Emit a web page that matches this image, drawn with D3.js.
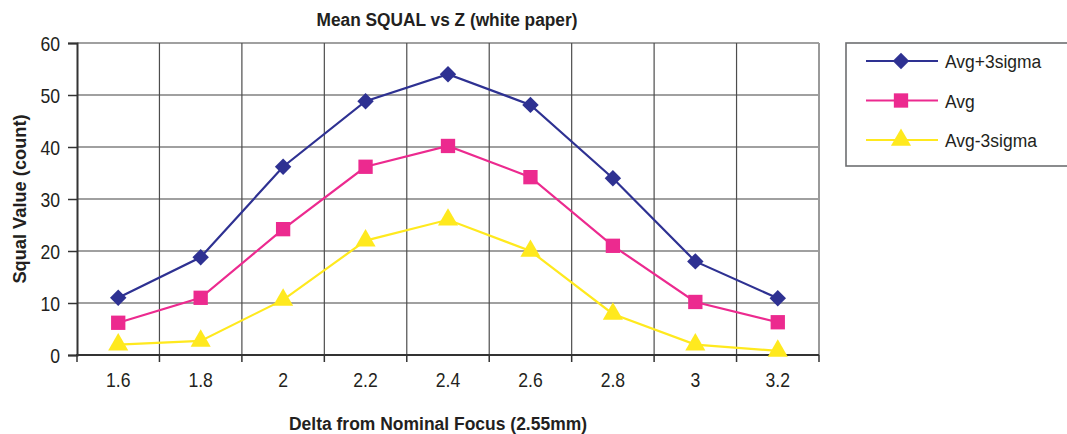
<!DOCTYPE html>
<html>
<head>
<meta charset="utf-8">
<script src="https://cdn.jsdelivr.net/npm/d3@7"></script>
<style>
  body { margin: 0; background: #fff; }
  text { font-family: "Liberation Sans Narrow", "Arial Narrow", "Liberation Sans", Arial, sans-serif; fill: #231f20; }
</style>
</head>
<body>
<svg></svg>
<script>
let width = 1067, height = 434;

let categories = ["1.6", "1.8", "2", "2.2", "2.4", "2.6", "2.8", "3", "3.2"];
let avgPlus = [11, 18.8, 36.2, 48.8, 54, 48.1, 34, 18, 10.9];
let avg = [6.2, 11, 24.2, 36.2, 40.2, 34.2, 21, 10.2, 6.3];
let avgMinus = [2, 2.7, 10.6, 22, 26, 20, 7.9, 2, 0.8];
let seriesNames = ["Avg+3sigma", "Avg", "Avg-3sigma"];
let yTicks = [0, 10, 20, 30, 40, 50, 60];

// diamond = square turned 45 degrees
let series = [
    { name: seriesNames[0], values: avgPlus, color: "#2e3192", symbol: d3.symbolSquare, size: 135, rot: 45 },
    { name: seriesNames[1], values: avg, color: "#ec2a8f", symbol: d3.symbolSquare, size: 205, rot: 0 },
    { name: seriesNames[2], values: avgMinus, color: "#ffe91e", symbol: d3.symbolTriangle, size: 175, rot: 0 }
];

let margin = { left: 77, right: 819, top: 43, bottom: 355 };

let svg = d3.select("svg")
    .attr("width", width)
    .attr("height", height)
    .attr("viewBox", "0 0 " + width + " " + height);

// squeeze text sideways, the fallback font is wider than the narrow one
function narrow(sel, k) {
    sel.each(function () {
        let t = d3.select(this);
        let tx = +t.attr("x") || 0, ty = +t.attr("y") || 0;
        let tr = t.attr("transform") || "";
        t.attr("x", null).attr("y", null)
            .attr("transform", tr + " translate(" + tx + "," + ty + ") scale(" + k + ",1)");
    });
}

let x = d3.scaleBand()
    .domain(categories)
    .range([margin.left, margin.right]);

let y = d3.scaleLinear()
    .domain([0, 60])
    .range([margin.bottom, margin.top]);

// horizontal grid
svg.append("g")
    .selectAll("line")
    .data(yTicks.slice(1))
    .enter()
    .append("line")
    .attr("x1", margin.left).attr("x2", margin.right)
    .attr("y1", d => y(d)).attr("y2", d => y(d))
    .attr("stroke", "#808080")
    .attr("stroke-width", 1.6);

// vertical grid at category boundaries
svg.append("g")
    .selectAll("line")
    .data(categories.slice(1))
    .enter()
    .append("line")
    .attr("x1", d => x(d)).attr("x2", d => x(d))
    .attr("y1", margin.top).attr("y2", margin.bottom)
    .attr("stroke", "#4d4d4d")
    .attr("stroke-width", 1.2);

// plot border right
svg.append("line")
    .attr("x1", margin.right).attr("x2", margin.right)
    .attr("y1", margin.top).attr("y2", margin.bottom)
    .attr("stroke", "#9a9a9a").attr("stroke-width", 2);

// y axis
let yAxis = svg.append("g")
    .attr("transform", "translate(" + margin.left + ",0)")
    .call(d3.axisLeft(y).tickValues(yTicks).tickSize(9).tickPadding(8));
yAxis.select(".domain").attr("stroke", "#333").attr("stroke-width", 2);
yAxis.selectAll(".tick line").attr("stroke", "#333").attr("stroke-width", 1.5);
yAxis.selectAll(".tick text").style("font-size", "20px").attr("fill", "#231f20")
    .attr("dy", null).attr("y", 7);
narrow(yAxis.selectAll(".tick text"), 0.88);

// x axis, ticks between categories
let xAxis = svg.append("g")
    .attr("transform", "translate(0," + margin.bottom + ")");
xAxis.append("line")
    .attr("x1", margin.left - 1).attr("x2", margin.right)
    .attr("stroke", "#333").attr("stroke-width", 2);
xAxis.selectAll(".tk")
    .data(categories.concat(["end"]))
    .enter()
    .append("line")
    .attr("x1", (d, i) => i < categories.length ? x(d) : margin.right)
    .attr("x2", (d, i) => i < categories.length ? x(d) : margin.right)
    .attr("y1", 0).attr("y2", 7)
    .attr("stroke", "#333").attr("stroke-width", 1.5);
let xLabels = xAxis.selectAll(".lbl")
    .data(categories)
    .enter()
    .append("text")
    .attr("x", d => x(d) + x.bandwidth() / 2)
    .attr("y", 32)
    .attr("text-anchor", "middle")
    .style("font-size", "20px")
    .text(d => d);
narrow(xLabels, 0.88);

// lines and markers
let line = d3.line()
    .x((d, i) => x(categories[i]) + x.bandwidth() / 2)
    .y(d => y(d));

series.forEach(s => {
    svg.append("path")
        .attr("d", line(s.values))
        .attr("fill", "none")
        .attr("stroke", s.color)
        .attr("stroke-width", 2.2);
});

series.forEach(s => {
    svg.append("g")
        .selectAll("path")
        .data(s.values)
        .enter()
        .append("path")
        .attr("d", d3.symbol().type(s.symbol).size(s.size))
        .attr("transform", (d, i) => "translate(" + (x(categories[i]) + x.bandwidth() / 2) + "," + y(d) + ") rotate(" + s.rot + ")")
        .attr("fill", s.color);
});

// titles
let title = svg.append("text")
    .attr("x", (margin.left + margin.right) / 2 - 1)
    .attr("y", 26)
    .attr("text-anchor", "middle")
    .style("font-size", "19px")
    .style("font-weight", "bold")
    .text("Mean SQUAL vs Z (white paper)");
narrow(title, 0.91);

let xTitle = svg.append("text")
    .attr("x", (margin.left + margin.right) / 2 - 10)
    .attr("y", 430)
    .attr("text-anchor", "middle")
    .style("font-size", "19px")
    .style("font-weight", "bold")
    .text("Delta from Nominal Focus (2.55mm)");
narrow(xTitle, 0.92);

svg.append("text")
    .attr("transform", "translate(26," + ((margin.top + margin.bottom) / 2) + ") rotate(-90) scale(0.96,1)")
    .attr("text-anchor", "middle")
    .style("font-size", "19px")
    .style("font-weight", "bold")
    .text("Squal Value (count)");

// legend
let legend = svg.append("g");
legend.append("rect")
    .attr("x", 846).attr("y", 43)
    .attr("width", 240).attr("height", 123)
    .attr("fill", "#fff")
    .attr("stroke", "#6d6e71").attr("stroke-width", 1.6);

let legendY = d3.scalePoint()
    .domain(seriesNames)
    .range([61, 140]);

series.forEach(s => {
    let ly = legendY(s.name);
    legend.append("line")
        .attr("x1", 866).attr("x2", 938)
        .attr("y1", ly).attr("y2", ly)
        .attr("stroke", s.color).attr("stroke-width", 2.2);
    legend.append("path")
        .attr("d", d3.symbol().type(s.symbol).size(s.size))
        .attr("transform", "translate(901," + ly + ") rotate(" + s.rot + ")")
        .attr("fill", s.color);
    let lt = legend.append("text")
        .attr("x", 945)
        .attr("y", ly + 7)
        .style("font-size", "19px")
        .text(s.name);
    narrow(lt, 0.92);
});
</script>
</body>
</html>
